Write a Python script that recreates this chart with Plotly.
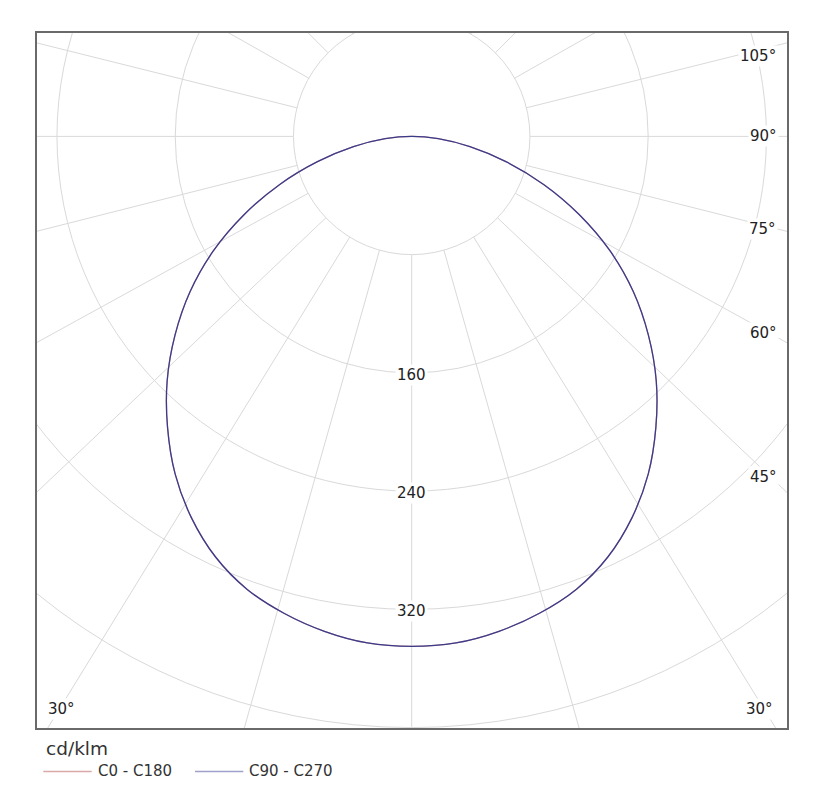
import numpy as np
import plotly.graph_objects as go

# light distribution (cd/klm), gamma in degrees
gamma = [0, 5, 10, 15, 20, 25, 30, 35, 40, 45, 50, 55, 60, 65, 70, 75, 80, 85, 90]
c0_c180 = [345, 344, 340, 334, 326, 314, 298, 279, 257, 234, 209, 183, 155, 125, 95, 66, 40, 18, 0]
c90_c270 = [345, 344, 340, 334, 326, 314, 298, 279, 257, 234, 209, 183, 155, 125, 95, 66, 40, 18, 0]

ring_values = [80, 160, 240, 320, 400]
ring_labels = ["160", "240", "320"]
spoke_angles = [0, 15.8, 31.6, 46.5, 61.2, 75.8, 90, 104, 119.5, 135, 150, 165, 180]
angle_labels = ["105°", "90°", "75°", "60°", "45°", "30°", "30°"]
legend_names = ["C0 - C180", "C90 - C270"]
unit_label = "cd/klm"

FONT = "DejaVu Sans"
GRID = "#d9d9d9"
RED = "#d39a9a"
BLUE = "#3b3b8c"
LEG_COLORS = ["#dba8a8", "#a0a0cc"]
TXT = "#222222"

# plot box in page pixels (used to place the text around the diagram)
L, R, T, B = 37, 787, 33.3, 728.3
PAGE = 8  # default body margin of the html page
W, H = 835 - 2 * PAGE, 801 - 2 * PAGE


def px(x, y):
    return (x - L) / (R - L), (B - y) / (B - T)


def polar_xy(r, deg):
    t = np.radians(deg)
    r = np.asarray(r, dtype=float)
    return r * np.sin(t), -r * np.cos(t)


def whole_curve(values):
    # left half (C180 / C270) mirrored onto the right half (C0 / C90)
    ang = [-g for g in gamma[::-1]] + gamma[1:]
    r = values[::-1] + values[1:]
    return polar_xy(r, ang)


fig = go.Figure()

for vals, color, name in [(c0_c180, RED, legend_names[0]), (c90_c270, BLUE, legend_names[1])]:
    x, y = whole_curve(vals)
    fig.add_trace(go.Scatter(
        x=x, y=y, mode="lines", name=name,
        line=dict(color=color, width=1.3, shape="spline", smoothing=0.9),
        showlegend=False, hoverinfo="skip"
    ))

# rings
for r in ring_values:
    fig.add_shape(type="circle", xref="x", yref="y", x0=-r, y0=-r, x1=r, y1=r,
                  line=dict(color=GRID, width=1), layer="below")

# spokes, starting at the first ring
for a in spoke_angles:
    for s in ([1] if a in (0, 180) else [-1, 1]):
        x0, y0 = polar_xy(ring_values[0], s * a)
        x1, y1 = polar_xy(800, s * a)
        fig.add_shape(type="line", xref="x", yref="y",
                      x0=float(x0), y0=float(y0), x1=float(x1), y1=float(y1),
                      line=dict(color=GRID, width=1), layer="below")

# ring values along the 0 degree spoke
for txt in ring_labels:
    fig.add_annotation(x=0, y=-float(txt), text=txt, showarrow=False, yshift=-2,
                       xanchor="center", yanchor="middle",
                       bgcolor="white", borderpad=1,
                       font=dict(family=FONT, size=15, color=TXT))

# angle labels at the box edge
label_pos = [(757.5, 56.5), (763, 136.5), (762.5, 229), (763, 333),
             (763, 477.5), (759, 709), (61.5, 709)]
for txt, (lx, ly) in zip(angle_labels, label_pos):
    xp, yp = px(lx, ly)
    fig.add_annotation(x=xp, y=yp, xref="paper", yref="paper", text=txt,
                       showarrow=False, xanchor="center", yanchor="middle",
                       bgcolor="white", borderpad=1,
                       font=dict(family=FONT, size=15, color=TXT))

# legend drawn by hand under the box
xp, yp = px(44, 749)
fig.add_annotation(x=xp, y=yp, xref="paper", yref="paper", text=unit_label,
                   showarrow=False, xanchor="left", yanchor="middle",
                   font=dict(family=FONT, size=18.5, color="#333333"))
for name, color, (lx0, lx1, tx) in zip(legend_names, LEG_COLORS,
                                        [(43.3, 91.7, 95.5), (195, 243.3, 247)]):
    a0, yy = px(lx0, 771.7)
    a1, _ = px(lx1, 771.7)
    fig.add_shape(type="line", xref="paper", yref="paper", x0=a0, x1=a1, y0=yy, y1=yy,
                  line=dict(color=color, width=1.5))
    tp, typ = px(tx, 771)
    fig.add_annotation(x=tp, y=typ, xref="paper", yref="paper", text=name,
                       showarrow=False, xanchor="left", yanchor="middle",
                       font=dict(family=FONT, size=15, color="#333333"))

# 1.478 px per cd/klm, origin at (411.7, 136.7) px
scale = 1.478
fig.update_xaxes(range=[(L - 411.7) / scale, (R - 411.7) / scale],
                 showgrid=False, zeroline=False, showticklabels=False, ticks="",
                 showline=True, mirror=True, linecolor="#6a6a6a", linewidth=1.5)
fig.update_yaxes(range=[-(B - 136.7) / scale, (136.7 - T) / scale],
                 showgrid=False, zeroline=False, showticklabels=False, ticks="",
                 showline=True, mirror=True, linecolor="#6a6a6a", linewidth=1.5)

fig.update_layout(
    width=W, height=H,
    margin=dict(l=L - PAGE, r=W - (R - PAGE), t=T - PAGE, b=H - (B - PAGE)),
    paper_bgcolor="white", plot_bgcolor="white",
    showlegend=False,
    font=dict(family=FONT)
)

fig.write_html("out.html")
